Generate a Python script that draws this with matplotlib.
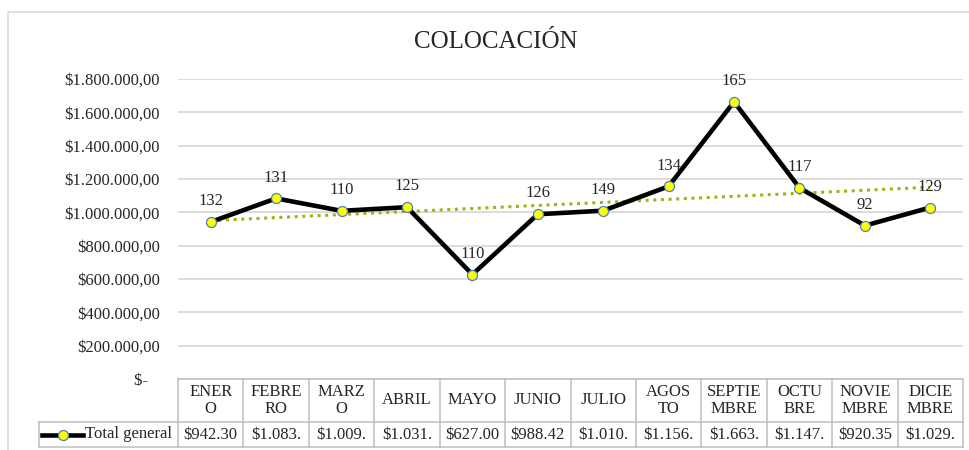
import numpy as np
import matplotlib
matplotlib.use("Agg")
import matplotlib.pyplot as plt
from matplotlib.transforms import blended_transform_factory
from matplotlib.patches import Rectangle
from matplotlib.lines import Line2D

# ---------------- data ----------------
months_header = ["ENER\nO", "FEBRE\nRO", "MARZ\nO", "ABRIL", "MAYO", "JUNIO",
                 "JULIO", "AGOS\nTO", "SEPTIE\nMBRE", "OCTU\nBRE", "NOVIE\nMBRE", "DICIE\nMBRE"]
values = [942300, 1083500, 1009000, 1031000, 627000, 988420,
          1010000, 1156000, 1663000, 1147000, 920350, 1029000]
counts = [132, 131, 110, 125, 110, 126, 149, 134, 165, 117, 92, 129]
table_values = ["$942.30", "$1.083.", "$1.009.", "$1.031.", "$627.00", "$988.42",
                "$1.010.", "$1.156.", "$1.663.", "$1.147.", "$920.35", "$1.029."]
series_name = "Total general"
title = "COLOCACIÓN"
yticks = [0, 200000, 400000, 600000, 800000, 1000000, 1200000, 1400000, 1600000, 1800000]

FONT = "Liberation Serif"
TXT = "#262626"
GRID = "#d9d9d9"
BORDER = "#bfbfbf"

W, H = 970, 450
fig = plt.figure(figsize=(W / 100, H / 100), dpi=100)
fig.patch.set_facecolor("white")

def fx(px):
    return px / W

def fy(py):
    return 1 - py / H

# outer chart border
fig.add_artist(Rectangle((fx(8), fy(470)), fx(1000) - fx(8), fy(12) - fy(470),
                         transform=fig.transFigure, fill=False, edgecolor="#d9d9d9", lw=1.2))

left, right, top, bottom = 178, 963, 79, 379
ax = fig.add_axes([fx(left), fy(bottom), fx(right) - fx(left), (bottom - top) / H])
x = np.arange(len(values))
ax.set_xlim(-0.5, len(values) - 0.5)
ax.set_ylim(0, 1800000)
for s in ax.spines.values():
    s.set_visible(False)
ax.set_xticks([])
ax.set_yticks(yticks)

def fmt(v):
    if v == 0:
        return "$-   "
    s = f"{int(v):,}".replace(",", ".")
    return f"${s},00"

ax.set_yticklabels([fmt(v) for v in yticks], fontfamily=FONT, fontsize=12, color=TXT)
ax.tick_params(axis="y", length=0, pad=13)
ax.grid(axis="y", color=GRID, lw=1.3)
ax.set_axisbelow(True)

# trend line
coef = np.polyfit(x, values, 1)
trend = np.polyval(coef, x)
ax.plot(x, trend, linestyle=(0, (1, 1.5)), color="#9cb514", lw=2.2, zorder=2)

# main line
ax.plot(x, values, color="black", lw=3.3, marker="o", markersize=7.2,
        markerfacecolor="#ffff00", markeredgecolor="#4a7fbf", markeredgewidth=0.9,
        solid_joinstyle="miter", zorder=3)

for xi, v, c in zip(x, values, counts):
    ax.annotate(str(c), (xi, v), xytext=(0, 15), textcoords="offset points",
                ha="center", va="center", fontfamily=FONT, fontsize=12, color=TXT)

fig.text(fx(496), fy(42), title, ha="center", va="center",
         fontfamily=FONT, fontsize=18, color=TXT)

# ---------------- data table ----------------
tr = blended_transform_factory(ax.transData, fig.transFigure)
y_top, y_mid, y_bot = 379, 422, 447
n = len(values)
col_w_px = (right - left) / n
leg_left = -0.5 - (left - 39) / col_w_px

def hline(x0, x1, ypx):
    fig.add_artist(Line2D([x0, x1], [fy(ypx), fy(ypx)], transform=tr, color=BORDER, lw=1.1))

def vline(xd, y0, y1):
    fig.add_artist(Line2D([xd, xd], [fy(y0), fy(y1)], transform=tr, color=BORDER, lw=1.1))

hline(-0.5, n - 0.5, y_top)
hline(leg_left, n - 0.5, y_mid)
hline(leg_left, n - 0.5, y_bot)
for i in range(n + 1):
    vline(i - 0.5, y_top, y_bot)
vline(leg_left, y_mid, y_bot)

for i, (h, tv) in enumerate(zip(months_header, table_values)):
    fig.text(i, fy((y_top + y_mid) / 2), h, transform=tr, ha="center", va="center",
             fontfamily=FONT, fontsize=12, color=TXT, linespacing=1.05, multialignment="center")
    fig.text(i, fy((y_mid + y_bot) / 2), tv, transform=tr, ha="center", va="center",
             fontfamily=FONT, fontsize=12, color=TXT)

# legend key in table
ty = fy((y_mid + y_bot) / 2)
kx0 = leg_left + 3 / col_w_px
kx1 = leg_left + 44 / col_w_px
fig.add_artist(Line2D([kx0, kx1], [ty, ty], transform=tr, color="black", lw=3.3))
fig.add_artist(Line2D([(kx0 + kx1) / 2], [ty], transform=tr, marker="o", markersize=7.2,
                      markerfacecolor="#ffff00", markeredgecolor="#4a7fbf",
                      markeredgewidth=0.9, linestyle="none"))
fig.text(leg_left + 46 / col_w_px, ty, series_name, transform=tr, ha="left", va="center",
         fontfamily=FONT, fontsize=12, color=TXT)

fig.savefig("out.png", dpi=100, facecolor="white")
